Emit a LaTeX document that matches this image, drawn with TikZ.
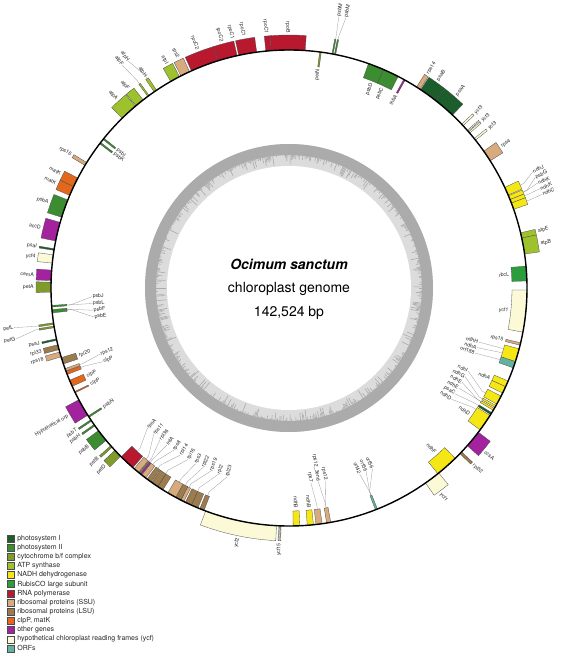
\documentclass[tikz,border=0pt]{standalone}
\usepackage{fontspec}
\setmainfont{TeX Gyre Heros}
\usetikzlibrary{positioning}

% gene classes
\definecolor{psI}{HTML}{1B5E2C}
\definecolor{psII}{HTML}{3C8C31}
\definecolor{cytb}{HTML}{7F9B2C}
\definecolor{atps}{HTML}{9DC22D}
\definecolor{ndh}{HTML}{F5E616}
\definecolor{rbc}{HTML}{2C9C3C}
\definecolor{rpo}{HTML}{B8192F}
\definecolor{ssu}{HTML}{D8AB7E}
\definecolor{lsu}{HTML}{9C7B4C}
\definecolor{clp}{HTML}{E3681E}
\definecolor{oth}{HTML}{A3229D}
\definecolor{ycf}{HTML}{FCF9D7}
\definecolor{orf}{HTML}{62B49E}
\definecolor{gclight}{HTML}{DCDCDC}
\definecolor{gcdark}{HTML}{ABABAB}

\tikzset{
  genebox/.style={draw=black!70,line width=0.3pt},
  glabel/.style={font=\fontsize{5.2}{6}\selectfont,text=black!85,inner sep=0.3pt},
  leader/.style={draw=black!40,line width=0.3pt},
  legbox/.style={draw=black!70,line width=0.3pt,minimum size=7pt,inner sep=0pt},
  legtext/.style={font=\fontsize{7}{8}\selectfont,text=black!85,inner sep=0pt},
  title/.style={font=\fontsize{14}{16}\selectfont}
}

% gene on the outer / inner strand: start angle, end angle, colour
\newcommand\geneout[3]{%
  \filldraw[genebox,fill=#3] (#1:238pt) arc[start angle=#1,end angle=#2,radius=238pt]
    -- (#2:253pt) arc[start angle=#2,end angle=#1,radius=253pt] -- cycle;}
\newcommand\genein[3]{%
  \filldraw[genebox,fill=#3] (#1:223pt) arc[start angle=#1,end angle=#2,radius=223pt]
    -- (#2:238pt) arc[start angle=#2,end angle=#1,radius=238pt] -- cycle;}

% radial labels: angle, text
\newcommand\labout[2]{%
  \pgfmathsetmacro\lblcos{cos(#1)}%
  \ifdim\lblcos pt<0pt
    \node[glabel,anchor=east,rotate=#1+180] (lab) at (#1:255pt) {#2};
  \else
    \node[glabel,anchor=west,rotate=#1] (lab) at (#1:255pt) {#2};
  \fi}
\newcommand\labin[2]{%
  \pgfmathsetmacro\lblcos{cos(#1)}%
  \ifdim\lblcos pt<0pt
    \node[glabel,anchor=west,rotate=#1+180] (lab) at (#1:221pt) {#2};
  \else
    \node[glabel,anchor=east,rotate=#1] (lab) at (#1:221pt) {#2};
  \fi}

% labels with a leader: gene angle, label angle, label radius, text
\newcommand\leadout[4]{%
  \pgfmathsetmacro\lblcos{cos(#2)}%
  \ifdim\lblcos pt<0pt
    \node[glabel,anchor=east,rotate=#2+180] (lab) at (#2:#3pt) {#4};
    \draw[leader] (#1:253pt) -- (#1:257pt) -- (lab.east);
  \else
    \node[glabel,anchor=west,rotate=#2] (lab) at (#2:#3pt) {#4};
    \draw[leader] (#1:253pt) -- (#1:257pt) -- (lab.west);
  \fi}
\newcommand\leadin[4]{%
  \pgfmathsetmacro\lblcos{cos(#2)}%
  \ifdim\lblcos pt<0pt
    \node[glabel,anchor=west,rotate=#2+180] (lab) at (#2:#3pt) {#4};
    \draw[leader] (#1:223pt) -- (#1:219pt) -- (lab.west);
  \else
    \node[glabel,anchor=east,rotate=#2] (lab) at (#2:#3pt) {#4};
    \draw[leader] (#1:223pt) -- (#1:219pt) -- (lab.east);
  \fi}

\begin{document}
\begin{tikzpicture}
\useasboundingbox (0,0) rectangle (567pt,654pt);

\begin{scope}[shift={(289pt,366pt)}]
  % GC content ring
  \fill[gclight] (0,0) circle[radius=144pt];
  \fill[gcdark,even odd rule] (0,0) circle[radius=144pt] circle[radius=133pt];
  \pgfmathsetseed{11}
  \foreach \a in {0,0.5,...,359.5}{
    \pgfmathsetmacro\gcr{133-10*rnd^3}
    \draw[gcdark,line width=0.6pt] (\a:133.5pt) -- (\a:\gcr pt);
  }
  \fill[white] (0,0) circle[radius=122pt];

  \node[title,font=\fontsize{14}{16}\selectfont\bfseries\itshape] (species) at (0,24pt) {Ocimum sanctum};
  \node[title] (kind) at (0,-0.5pt) {chloroplast genome};
  \node[title] (size) at (0,-25pt) {142,524 bp};

  % outer strand
  \geneout{86.1}{94.3}{rpo}
  \geneout{94.3}{95.6}{rpo}
  \geneout{97.8}{102.2}{rpo}
  \geneout{102.6}{107.4}{rpo}
  \geneout{107.4}{114.2}{rpo}
  \geneout{114.7}{117.0}{ssu}
  \geneout{117.4}{119.8}{atps}
  \geneout{123.8}{124.5}{atps}
  \geneout{126.0}{126.4}{atps}
  \geneout{127.8}{130.0}{atps}
  \geneout{130.2}{134.5}{atps}
  \geneout{148.2}{149.0}{ssu}
  \geneout{152.5}{154.8}{clp}
  \geneout{154.8}{157.1}{clp}
  \geneout{158.3}{162.7}{psII}
  \geneout{164.0}{168.6}{oth}
  \geneout{170.5}{170.9}{psI}
  \geneout{172.0}{174.0}{ycf}
  \geneout{175.7}{178.2}{oth}
  \geneout{178.6}{181.0}{cytb}
  \geneout{188.4}{188.8}{cytb}
  \geneout{189.2}{189.6}{cytb}
  \geneout{192.3}{192.7}{psI}
  \geneout{193.8}{195.0}{lsu}
  \geneout{195.6}{196.8}{ssu}
  \geneout{208.0}{212.3}{oth}
  \geneout{213.6}{214.0}{psII}
  \geneout{215.0}{215.4}{psII}
  \geneout{216.8}{219.8}{psII}
  \geneout{221.5}{222.0}{cytb}
  \geneout{223.0}{225.0}{cytb}
  \geneout{78.7}{79.0}{psII}
  \geneout{79.3}{79.6}{psII}
  \geneout{56.6}{57.6}{ssu}
  \geneout{52.0}{56.4}{psI}
  \geneout{46.6}{52.0}{psI}
  \geneout{43.0}{43.5}{ycf}
  \geneout{40.6}{41.0}{ycf}
  \geneout{41.2}{41.5}{ycf}
  \geneout{38.4}{38.9}{ycf}
  \geneout{32.3}{35.1}{ssu}
  \geneout{23.0}{25.0}{ndh}
  \geneout{21.8}{22.8}{ndh}
  \geneout{20.9}{21.8}{ndh}
  \geneout{19.3}{20.9}{ndh}
  \geneout{12.1}{13.4}{atps}
  \geneout{8.2}{12.1}{atps}
  \geneout{-37.3}{-41.5}{oth}
  \geneout{-43.5}{-44.1}{lsu}
  \geneout{-51.0}{-55.0}{ycf}
  \geneout{-91.9}{-92.1}{ycf}
  \geneout{-92.3}{-92.5}{ycf}
  \geneout{-93.0}{-110.5}{ycf}

  % inner strand
  \genein{82.2}{82.6}{cytb}
  \genein{66.6}{70.5}{psII}
  \genein{62.7}{66.6}{psII}
  \genein{60.8}{61.2}{oth}
  \genein{1.7}{5.3}{rbc}
  \genein{-0.5}{-10.7}{ycf}
  \genein{-13.3}{-13.9}{ssu}
  \genein{-14.8}{-18.0}{ndh}
  \genein{-18.0}{-19.6}{orf}
  \genein{-23.0}{-24.5}{ndh}
  \genein{-24.5}{-26.2}{ndh}
  \genein{-27.0}{-29.2}{ndh}
  \genein{-29.6}{-30.1}{ndh}
  \genein{-30.4}{-30.9}{ndh}
  \genein{-31.6}{-32.1}{psI}
  \genein{-32.4}{-36.6}{ndh}
  \genein{-45.7}{-51.3}{ndh}
  \genein{-68.2}{-68.7}{orf}
  \genein{-79.9}{-80.9}{ssu}
  \genein{-82.0}{-83.5}{ssu}
  \genein{-84.1}{-85.6}{ndh}
  \genein{-87.4}{-89.0}{ndh}
  \genein{-110.9}{-112.0}{lsu}
  \genein{-112.5}{-114.2}{lsu}
  \genein{-114.2}{-115.8}{lsu}
  \genein{-116.2}{-117.0}{ssu}
  \genein{-117.0}{-118.4}{lsu}
  \genein{-118.4}{-120.6}{ssu}
  \genein{-122.0}{-123.5}{lsu}
  \genein{-123.5}{-125.2}{lsu}
  \genein{-125.4}{-126.6}{lsu}
  \genein{-127.0}{-128.2}{ssu}
  \genein{-128.3}{-128.7}{oth}
  \genein{-128.8}{-129.1}{lsu}
  \genein{-129.2}{-130.6}{ssu}
  \genein{-131.0}{-134.8}{rpo}
  \genein{141.0}{141.4}{psII}
  \genein{142.3}{142.7}{psII}
  \genein{184.2}{184.6}{psII}
  \genein{185.2}{186.0}{psII}
  \genein{197.0}{198.6}{lsu}
  \genein{199.8}{200.4}{ssu}
  \genein{200.5}{201.3}{clp}
  \genein{202.8}{204.4}{clp}
  \genein{205.8}{206.1}{clp}
  \genein{212.5}{212.9}{psII}

  % genome circle
  \draw[line width=1.4pt] (0,0) circle[radius=238pt];

  % outer labels
  \labout{90.3}{rpoB}
  \labout{95.1}{rpoC1}
  \labout{100.2}{rpoC1}
  \labout{102.8}{rpoC1}
  \labout{105.3}{rpoC2}
  \labout{111.0}{rpoC2}
  \labout{115.8}{rps2}
  \labout{118.6}{atpI}
  \labout{124.1}{atpH}
  \labout{129.0}{atpF}
  \labout{132.4}{atpA}
  \leadout{126.2}{126.8}{278}{atpF}
  \leadout{124.1}{125.3}{278}{atpH}
  \labout{148.6}{rps16}
  \labout{153.4}{matK}
  \labout{155.8}{matK}
  \labout{160.5}{psbA}
  \labout{166.3}{accD}
  \labout{170.7}{psaI}
  \labout{173.0}{ycf4}
  \labout{177.0}{cemA}
  \labout{179.8}{petA}
  \leadout{188.6}{188.2}{278}{petL}
  \leadout{189.4}{190.6}{278}{petG}
  \labout{192.5}{psaJ}
  \labout{194.4}{rpl33}
  \labout{196.2}{rps18}
  \labout{210.1}{Hypothetical orp}
  \labout{213.8}{psbT}
  \labout{215.2}{psbH}
  \labout{218.3}{psbB}
  \labout{221.7}{petB}
  \labout{224.0}{petD}
  \leadout{79.4}{79.6}{276}{psbM}
  \leadout{78.8}{78.1}{276}{psbM}
  \labout{57.1}{rps14}
  \labout{54.4}{psaB}
  \labout{49.0}{psaA}
  \labout{43.2}{ycf3}
  \labout{40.9}{ycf3}
  \labout{38.6}{ycf3}
  \labout{33.7}{rps4}
  \leadout{24.0}{25.5}{270}{ndhJ}
  \leadout{22.3}{24.2}{270}{psbG}
  \leadout{22.3}{22.9}{270}{ndhK}
  \leadout{21.4}{21.6}{270}{ndhK}
  \leadout{20.1}{20.3}{270}{ndhC}
  \labout{12.9}{atpE}
  \labout{10.0}{atpB}
  \labout{-39.9}{ccsA}
  \labout{-43.8}{rpl32}
  \labout{-53.5}{ycf1}
  \labout{-92.2}{ycf15}
  \labout{-101.6}{ycf2}

  % inner labels
  \labin{82.4}{petN}
  \labin{68.0}{psbD}
  \labin{65.0}{psbC}
  \labin{61.0}{lhbA}
  \labin{3.5}{rbcL}
  \labin{-5.9}{ycf1}
  \labin{-13.6}{rps15}
  \leadin{-15.8}{-15.9}{197}{ndhH}
  \leadin{-17.0}{-17.6}{197}{ndhA}
  \leadin{-18.8}{-19.3}{197}{orf188}
  \labin{-24.3}{ndhA}
  \leadin{-28.1}{-24.8}{197}{ndhI}
  \leadin{-29.8}{-26.7}{197}{ndhG}
  \leadin{-30.6}{-28.6}{197}{ndhE}
  \leadin{-30.6}{-30.5}{197}{ndhE}
  \leadin{-31.8}{-32.5}{197}{psaC}
  \leadin{-33.0}{-34.4}{197}{ndhD}
  \labin{-35.0}{ndhD}
  \labin{-48.4}{ndhF}
  \leadin{-68.4}{-65.2}{199}{orf56}
  \leadin{-68.4}{-67.2}{199}{orf56}
  \leadin{-68.4}{-69.2}{199}{orf42}
  \leadin{-80.4}{-79.2}{196}{rps12}
  \leadin{-80.4}{-81.4}{196}{rps12\_3end}
  \leadin{-82.7}{-83.6}{196}{rps7}
  \labin{-84.8}{ndhB}
  \labin{-88.2}{ndhB}
  \leadin{-132.9}{-135.3}{199}{rpoA}
  \leadin{-129.9}{-132.8}{199}{rps11}
  \leadin{-128.9}{-130.4}{199}{rpl36}
  \leadin{-128.5}{-127.9}{199}{infA}
  \leadin{-127.6}{-125.4}{199}{rps8}
  \leadin{-126.0}{-123.0}{199}{rpl14}
  \leadin{-123.6}{-120.5}{199}{rpl16}
  \leadin{-119.5}{-118.0}{199}{rps3}
  \leadin{-117.7}{-115.6}{199}{rpl22}
  \leadin{-116.6}{-113.1}{199}{rps19}
  \leadin{-114.2}{-110.7}{199}{rpl2}
  \leadin{-111.4}{-108.2}{199}{rpl23}
  \labin{141.2}{psbI}
  \labin{142.5}{psbK}
  \leadin{184.4}{182.5}{197}{psbJ}
  \leadin{184.4}{184.5}{197}{psbL}
  \leadin{185.6}{186.5}{197}{psbF}
  \leadin{185.6}{188.5}{197}{psbE}
  \labin{197.8}{rpl20}
  \leadin{200.1}{199.3}{200}{rps12}
  \leadin{200.9}{201.6}{200}{clpP}
  \labin{203.6}{clpP}
  \labin{205.9}{clpP}
  \labin{212.7}{psbN}
\end{scope}

% legend
\begin{scope}[shift={(11pt,115.7pt)}]
  \foreach \c/\t [count=\i from 0] in {psI/photosystem I, psII/photosystem II,
      cytb/{cytochrome b/f complex}, atps/ATP synthase, ndh/NADH dehydrogenase,
      rbc/RubisCO large subunit, rpo/RNA polymerase, ssu/ribosomal proteins (SSU),
      lsu/ribosomal proteins (LSU), clp/{clpP, matK}, oth/other genes,
      ycf/hypothetical chloroplast reading frames (ycf), orf/ORFs}{
    \node[legbox,fill=\c] (key\i) at (0pt,{-9.17pt*\i}) {};
    \node[legtext,right=2.5pt of key\i] (leg\i) {\t};
  }
\end{scope}
\end{tikzpicture}
\end{document}
